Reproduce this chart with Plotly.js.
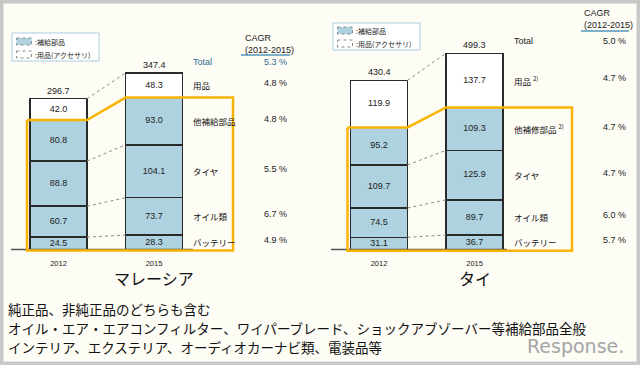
<!DOCTYPE html>
<html><head><meta charset="utf-8">
<script src="https://cdn.plot.ly/plotly-3.0.1.min.js"></script>
<style>html,body{margin:0;padding:0;background:#fdfcf5;}#chart{width:640px;height:365px;}</style>
</head><body><div id="chart"></div>
<script>
// ---- data ----
const years = ['2012', '2015'];
const segNamesMY = ['バッテリー', 'オイル類', 'タイヤ', '他補給部品', '用品'];
const segNamesTH = ['バッテリー', 'オイル類', 'タイヤ', '他補修部品 <sup>2)</sup>', '用品 <sup>2)</sup>'];
const myBattery = [24.5, 28.3];
const myOil = [60.7, 73.7];
const myTire = [88.8, 104.1];
const myOther = [80.8, 93.0];
const myAcc = [42.0, 48.3];
const myTotal = [296.7, 347.4];
const myCagr = ['4.9 %', '6.7 %', '5.5 %', '4.8 %', '4.8 %'];
const myCagrTotal = '5.3 %';
const thBattery = [31.1, 36.7];
const thOil = [74.5, 89.7];
const thTire = [109.7, 125.9];
const thOther = [95.2, 109.3];
const thAcc = [119.9, 137.7];
const thTotal = [430.4, 499.3];
const thCagr = ['5.7 %', '6.0 %', '4.7 %', '4.7 %', '4.7 %'];
const thCagrTotal = '5.0 %';
const countries = ['マレーシア', 'タイ'];
const legendLabels = [':補給部品', ':用品(アクセサリ)'];
const footer = ['純正品、非純正品のどちらも含む',
  'オイル・エア・エアコンフィルター、ワイパーブレード、ショックアブゾーバー等補給部品全般',
  'インテリア、エクステリア、オーディオカーナビ類、電装品等'];

// ---- style ----
const W = 640, H = 365;
const px = x => x / W, py = y => 1 - y / H;
const BLUE = '#aed2df', OUT = '#2a2a2a', YEL = '#f8b400';
const NUM = 'Liberation Sans, Arial, sans-serif';
const JP = 'Noto Sans CJK JP, sans-serif';
const BW = 0.597;
const traces = [];
const annotations = [];
const shapes = [];

function country(series, names, totals, cagr, cagrTotal, xa, ya, opt) {
  const xs = [0, 1];
  const fills = [BLUE, BLUE, BLUE, BLUE, '#ffffff'];
  series.forEach((s, i) => {
    traces.push({type: 'bar', x: xs, y: s, width: BW, xaxis: xa, yaxis: ya,
      marker: {color: fills[i], line: {color: OUT, width: 1.5}}, hoverinfo: 'none', showlegend: false});
  });
  const cum = [[0, 0]];
  series.forEach((s, i) => cum.push([cum[i][0] + s[0], cum[i][1] + s[1]]));
  traces.push({type: 'scatter', mode: 'lines', x: opt.base, y: [0, 0], xaxis: xa, yaxis: ya,
    line: {color: '#555', width: 1.5}, hoverinfo: 'none', showlegend: false});
  const dx = [], dy = [];
  [1, 2, 3, 5].forEach(k => { dx.push(BW / 2, 1 - BW / 2, null); dy.push(cum[k][0], cum[k][1], null); });
  traces.push({type: 'scatter', mode: 'lines', x: dx, y: dy, xaxis: xa, yaxis: ya,
    line: {color: '#8a8a8a', width: 1, dash: 'dot'}, hoverinfo: 'none', showlegend: false});
  const t0 = cum[4][0], t1 = cum[4][1];
  traces.push({type: 'scatter', mode: 'lines', xaxis: xa, yaxis: ya,
    x: [opt.yl, BW / 2, 1 - BW / 2, opt.yr, opt.yr, opt.yl, opt.yl],
    y: [t0, t0, t1, t1, opt.yb, opt.yb, t0],
    line: {color: YEL, width: 2.5}, hoverinfo: 'none', showlegend: false});
  const tx = [], ty = [], tt = [];
  series.forEach((s, i) => { for (let j = 0; j < 2; j++) { tx.push(j); ty.push((cum[i][j] + cum[i + 1][j]) / 2); tt.push(s[j].toFixed(1)); } });
  traces.push({type: 'scatter', mode: 'text', x: tx, y: ty, text: tt, xaxis: xa, yaxis: ya,
    textfont: {family: NUM, size: 9, color: '#222'}, hoverinfo: 'none', showlegend: false});
  const xr = xa, yr = ya;
  totals.forEach((v, j) => annotations.push({xref: xr, yref: yr, x: j, y: v, text: v.toFixed(1),
    showarrow: false, yanchor: 'bottom', yshift: 1, font: {family: NUM, size: 9, color: '#222'}}));
  names.forEach((n, i) => {
    const ym = (cum[i][1] + cum[i + 1][1]) / 2;
    annotations.push({xref: xr, yref: yr, x: opt.lx, y: ym, text: n, showarrow: false, xanchor: 'left', yanchor: 'middle',
      font: {family: JP, size: 8.5, color: '#111'}});
    annotations.push({xref: xr, yref: yr, x: opt.cx, y: ym, yshift: 2, text: cagr[i], showarrow: false, xanchor: 'right', yanchor: 'middle',
      font: {family: NUM, size: 9, color: '#222'}});
  });
  annotations.push({xref: xr, yref: yr, x: opt.lx, y: totals[1], yshift: opt.tshift, text: 'Total', showarrow: false, xanchor: 'left', yanchor: 'middle',
    font: {family: NUM, size: 9, color: opt.tcol}});
  annotations.push({xref: xr, yref: yr, x: opt.cx, y: totals[1], yshift: opt.tshift, text: cagrTotal, showarrow: false, xanchor: 'right', yanchor: 'middle',
    font: {family: NUM, size: 9, color: opt.tcol}});
}

country([myBattery, myOil, myTire, myOther, myAcc], segNamesMY, myTotal, myCagr, myCagrTotal, 'x', 'y',
  {base: [-0.497, 1.408], yl: -0.33, yr: 1.827, yb: -2, lx: 1.39, cx: 2.414, tshift: 11, tcol: '#2d6b93'});
country([thBattery, thOil, thTire, thOther, thAcc], segNamesTH, thTotal, thCagr, thCagrTotal, 'x2', 'y2',
  {base: [-0.503, 1.34], yl: -0.33, yr: 2.02, yb: -3, lx: 1.395, cx: 2.607, tshift: 12, tcol: '#222'});

// CAGR headers + underline
[[243, 31, 241, 290, 55], [582, 6, 581, 629, 31]].forEach(h => {
  annotations.push({xref: 'paper', yref: 'paper', x: px(h[0]), y: py(h[1]), xanchor: 'left', yanchor: 'top', align: 'left',
    text: 'CAGR<br>(2012-2015)', showarrow: false, font: {family: NUM, size: 9, color: '#222'}});
  shapes.push({type: 'line', xref: 'paper', yref: 'paper', x0: px(h[2]), x1: px(h[3]), y0: py(h[4]), y1: py(h[4]),
    line: {color: '#7fb0c9', width: 2}});
});

// manual legends
[[12, 33, 99, 61, 38, 51], [333, 23, 420, 50, 27, 40]].forEach(L => {
  shapes.push({type: 'rect', xref: 'paper', yref: 'paper', x0: px(L[0]), x1: px(L[2]), y0: py(L[1]), y1: py(L[3]),
    line: {color: '#a9cde0', width: 1}, fillcolor: '#ffffff', layer: 'below'});
  [[L[4], BLUE], [L[5], '#ffffff']].forEach((e, k) => {
    shapes.push({type: 'rect', xref: 'paper', yref: 'paper', x0: px(L[0] + 4.5), x1: px(L[0] + 19.5), y0: py(e[0]), y1: py(e[0] + 7),
      line: {color: '#8a8a8a', width: 1, dash: 'dot'}, fillcolor: e[1]});
    annotations.push({xref: 'paper', yref: 'paper', x: px(L[0] + 21), y: py(e[0] + 3.5), xanchor: 'left', yanchor: 'middle',
      text: legendLabels[k], showarrow: false, font: {family: JP, size: 7, color: '#222'}});
  });
});

// country labels
countries.forEach((c, i) => annotations.push({xref: i ? 'x2' : 'x', yref: 'paper', x: 1, y: py(278), yanchor: 'middle',
  text: c, showarrow: false, font: {family: JP, size: 16, color: '#111'}}));

// footer
[308.5, 327.5, 346.5].forEach((y, i) => annotations.push({xref: 'paper', yref: 'paper', x: px(7), y: py(y), xanchor: 'left', yanchor: 'middle',
  text: footer[i], showarrow: false, borderpad: 0, font: {family: JP, size: 13.5, color: '#111'}}));
// watermark
annotations.push({xref: 'paper', yref: 'paper', x: px(626), y: py(346), xanchor: 'right', yanchor: 'middle', text: 'Response.',
  showarrow: false, font: {family: 'DejaVu Sans, sans-serif', size: 19, color: '#a5a5a5'}});

// outer gray frame
shapes.push({type: 'rect', xref: 'paper', yref: 'paper', x0: 0, x1: 1, y0: 0, y1: 1,
  line: {color: '#c8c8c8', width: 7}, fillcolor: 'rgba(0,0,0,0)'});

const xbase = {range: [-0.6, 2.7], tickvals: [0, 1], ticktext: years, showgrid: false, zeroline: false, showline: false,
  ticks: '', ticklabelstandoff: 5, tickfont: {family: NUM, size: 7.5, color: '#222'}, fixedrange: true};
const ybase = {showgrid: false, zeroline: false, showline: false, showticklabels: false, fixedrange: true,
  domain: [py(252), py(20)]};
const layout = {
  width: W, height: H, margin: {l: 0, r: 0, t: 0, b: 0},
  paper_bgcolor: '#fdfcf5', plot_bgcolor: 'rgba(0,0,0,0)',
  barmode: 'stack', bargap: 0, showlegend: false,
  xaxis: Object.assign({}, xbase, {domain: [px(1.2), px(316.4)], anchor: 'y'}),
  yaxis: Object.assign({}, ybase, {range: [-4.9, 451.8], anchor: 'x'}),
  xaxis2: Object.assign({}, xbase, {domain: [px(321.7), px(637)], anchor: 'y2'}),
  yaxis2: Object.assign({}, ybase, {range: [-6.4, 584.0], anchor: 'x2'}),
  annotations: annotations, shapes: shapes
};
traces.forEach(t => { if (t.type === 'scatter') t.cliponaxis = false; });
Plotly.newPlot('chart', traces, layout, {staticPlot: true});
</script></body></html>
